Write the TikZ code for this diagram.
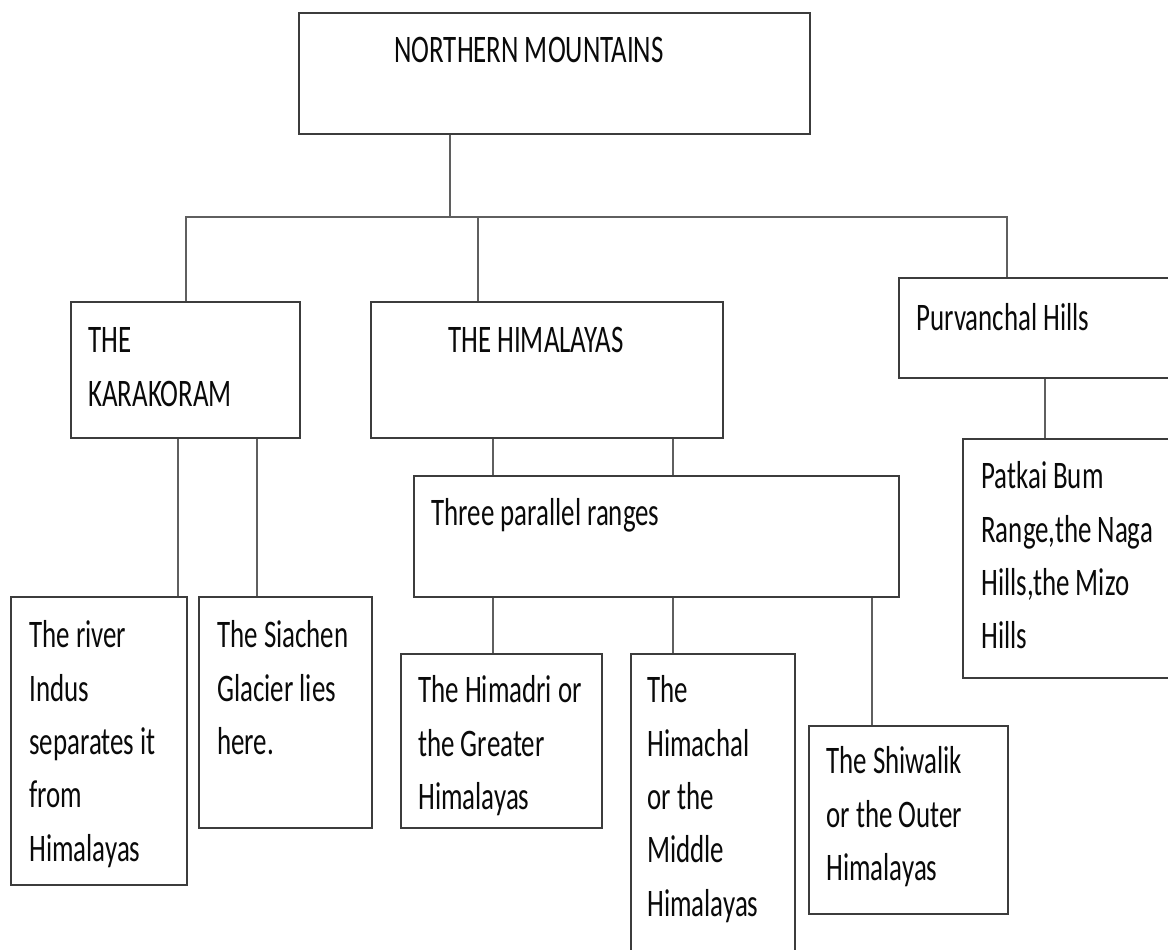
\documentclass[tikz,border=0pt]{standalone}
\usepackage{fontspec}
\setmainfont{Carlito}[FakeStretch=0.69]
\usepackage{tikz}
\usetikzlibrary{positioning}
\definecolor{boxline}{RGB}{60,60,60}
\definecolor{linkline}{RGB}{95,95,95}
\definecolor{inktext}{RGB}{10,10,10}
\newcommand{\chartfont}{\fontsize{22.2pt}{30.4pt}\selectfont}

\tikzset{
  box/.style={draw=boxline, line width=1.3pt, anchor=north west, inner sep=0pt},
  boxsize/.style 2 args={minimum width=#1*0.02cm, minimum height=#2*0.02cm},
  txt/.style={anchor=north west, inner sep=0pt, align=flush left, text width=8cm,
    text=inktext, font=\chartfont, execute at begin node=\strut},
  link/.style={draw=linkline, line width=1.1pt},
}

\begin{document}
\begin{tikzpicture}[x=0.02cm, y=-0.02cm]
\useasboundingbox (0,0) rectangle (1168,949);

% boxes
\node[box, boxsize={511}{121}] (north) at (298,12) {};
\node[box, boxsize={229}{136}] (kara) at (70,301) {};
\node[box, boxsize={352}{136}] (hima) at (370,301) {};
\node[box, boxsize={300}{100}] (purv) at (898,277) {};
\node[box, boxsize={485}{121}] (ranges) at (413,475) {};
\node[box, boxsize={240}{239}] (patkai) at (962,438) {};
\node[box, boxsize={176}{288}] (river) at (10,596) {};
\node[box, boxsize={173}{231}] (siachen) at (198,596) {};
\node[box, boxsize={201}{174}] (himadri) at (400,653) {};
\node[box, boxsize={164}{330}] (himachal) at (630,653) {};
\node[box, boxsize={199}{188}] (shiwalik) at (808,725) {};

% texts
\node[txt] (northT) at (394,25) {NORTHERN MOUNTAINS};
\node[txt] (karaT) at (88,315) {THE\\KARAKORAM};
\node[txt] (himaT) at (448,315) {THE HIMALAYAS};
\node[txt] (purvT) at (916,293) {Purvanchal Hills};
\node[txt] (rangesT) at (431,488) {Three parallel ranges};
\node[txt] (patkaiT) at (981,451) {Patkai Bum\\Range,the Naga\\Hills,the Mizo\\Hills};
\node[txt] (riverT) at (29,610) {The river\\Indus\\separates it\\from\\Himalayas};
\node[txt] (siachenT) at (217,610) {The Siachen\\Glacier lies\\here.};
\node[txt] (himadriT) at (418,665) {The Himadri or\\the Greater\\Himalayas};
\node[txt] (himachalT) at (647,665) {The\\Himachal\\or the\\Middle\\Himalayas};
\node[txt] (shiwalikT) at (826,736) {The Shiwalik\\or the Outer\\Himalayas};

% connectors
\coordinate (barR) at (1007,217);
\draw[link] (450,0 |- north.south) -- (450,0 |- barR);
\draw[link] (kara.north) |- (barR) -- (purv.north -| barR);
\draw[link] (478,0 |- barR) -- (478,0 |- hima.north);

\draw[link] (178,0 |- kara.south) -- (178,0 |- river.north);
\draw[link] (257,0 |- kara.south) -- (257,0 |- siachen.north);

\draw[link] (493,0 |- hima.south) -- (493,0 |- ranges.north);
\draw[link] (673,0 |- hima.south) -- (673,0 |- ranges.north);

\draw[link] (493,0 |- ranges.south) -- (493,0 |- himadri.north);
\draw[link] (673,0 |- ranges.south) -- (673,0 |- himachal.north);
\draw[link] (872,0 |- ranges.south) -- (872,0 |- shiwalik.north);

\draw[link] (1045,0 |- purv.south) -- (1045,0 |- patkai.north);
\end{tikzpicture}
\end{document}
